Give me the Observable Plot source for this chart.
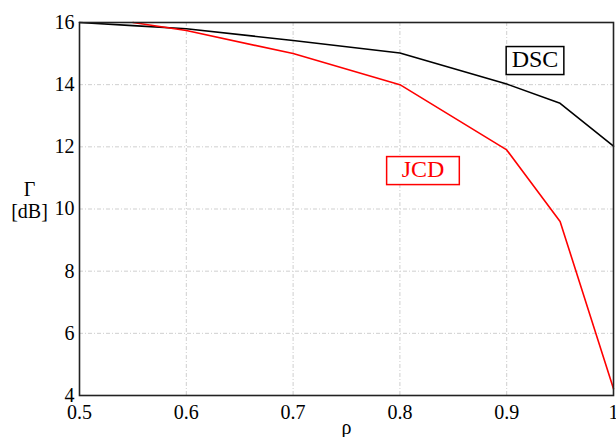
<!DOCTYPE html>
<html>
<head>
<meta charset="utf-8">
<script src="https://cdn.jsdelivr.net/npm/d3@7"></script>
<script src="https://cdn.jsdelivr.net/npm/@observablehq/plot@0.6"></script>
<style>
  html, body { margin: 0; padding: 0; background: white; }
  #chart svg, #chart svg text { font-family: "Liberation Serif", "Times New Roman", serif !important; }
</style>
</head>
<body>
<div id="chart"></div>
<script>
const rho = [0.5, 0.55, 0.6, 0.7, 0.8, 0.9, 0.95, 1];
const dscValues = [16, 15.9, 15.8, 15.42, 15.02, 14.02, 13.4, 12.02];
const jcdRho = [0.55, 0.6, 0.7, 0.8, 0.9, 0.95, 1];
const jcdValues = [16, 15.74, 15.0, 14.0, 11.9, 9.6, 4.22];
const xTicks = [0.5, 0.6, 0.7, 0.8, 0.9, 1];
const yTicks = [4, 6, 8, 10, 12, 14, 16];
const labelNames = ["DSC", "JCD"];
const labelRho = [0.9265, 0.8216];
const labelGamma = [14.83, 11.29];
const labelColors = ["black", "red"];
const labelPadX = [5.5, 15];

const dsc = rho.map((r, i) => ({rho: r, gamma: dscValues[i]}));
const jcd = jcdRho.map((r, i) => ({rho: r, gamma: jcdValues[i]}));
const labels = labelNames.map((n, i) => ({name: n, rho: labelRho[i], gamma: labelGamma[i], color: labelColors[i], padX: labelPadX[i]}));

const gridStyle = {stroke: "#cfcfcf", strokeOpacity: 1, strokeWidth: 1, strokeDasharray: "4,2,1,2"};
const serif = "Liberation Serif";

const plot = Plot.plot({
  width: 616,
  height: 437,
  marginLeft: 79,
  marginRight: 3,
  marginTop: 22,
  marginBottom: 42,
  style: {fontFamily: serif, fontSize: "20px", background: "white", color: "black", overflow: "visible"},
  x: {domain: [0.5, 1]},
  y: {domain: [4, 16]},
  marks: [
    Plot.gridX(xTicks, gridStyle),
    Plot.gridY(yTicks, gridStyle),
    Plot.line(dsc, {x: "rho", y: "gamma", stroke: "black", strokeWidth: 1.6}),
    Plot.line(jcd, {x: "rho", y: "gamma", stroke: "red", strokeWidth: 1.6}),
    Plot.frame({stroke: "#222", strokeWidth: 1.6}),
    Plot.axisX({ticks: xTicks, tickSize: 0, tickPadding: 9, tickFormat: d => String(d), label: null, fontSize: 20, fontFamily: serif}),
    Plot.axisY({ticks: yTicks, tickSize: 0, tickPadding: 5, tickFormat: d => String(d), label: null, fontSize: 20, fontFamily: serif}),
    Plot.text(["ρ"], {frameAnchor: "bottom", dy: 38, fontSize: 20, fontFamily: serif}),
    Plot.text(["Γ\n[dB]"], {frameAnchor: "left", dx: -50, dy: -9, textAnchor: "middle", lineHeight: 1.1, fontSize: 20, fontFamily: serif}),
    Plot.text(labels, {x: "rho", y: "gamma", text: "name", fill: "color", fontSize: 24, fontFamily: serif})
  ]
});

document.getElementById("chart").appendChild(plot);

// draw boxes around annotation labels
labels.forEach(lab => {
  const t = Array.from(plot.querySelectorAll("text")).find(el => el.textContent === lab.name);
  if (!t) return;
  const bb = t.getBBox();
  const rect = document.createElementNS("http://www.w3.org/2000/svg", "rect");
  rect.setAttribute("x", bb.x - lab.padX);
  rect.setAttribute("y", bb.y + 1);
  rect.setAttribute("width", bb.width + 2 * lab.padX);
  rect.setAttribute("height", bb.height + 2);
  rect.setAttribute("fill", "white");
  rect.setAttribute("stroke", lab.color);
  rect.setAttribute("stroke-width", 1.5);
  const tr = t.getAttribute("transform");
  if (tr) rect.setAttribute("transform", tr);
  t.parentNode.insertBefore(rect, t);
});
</script>
</body>
</html>
